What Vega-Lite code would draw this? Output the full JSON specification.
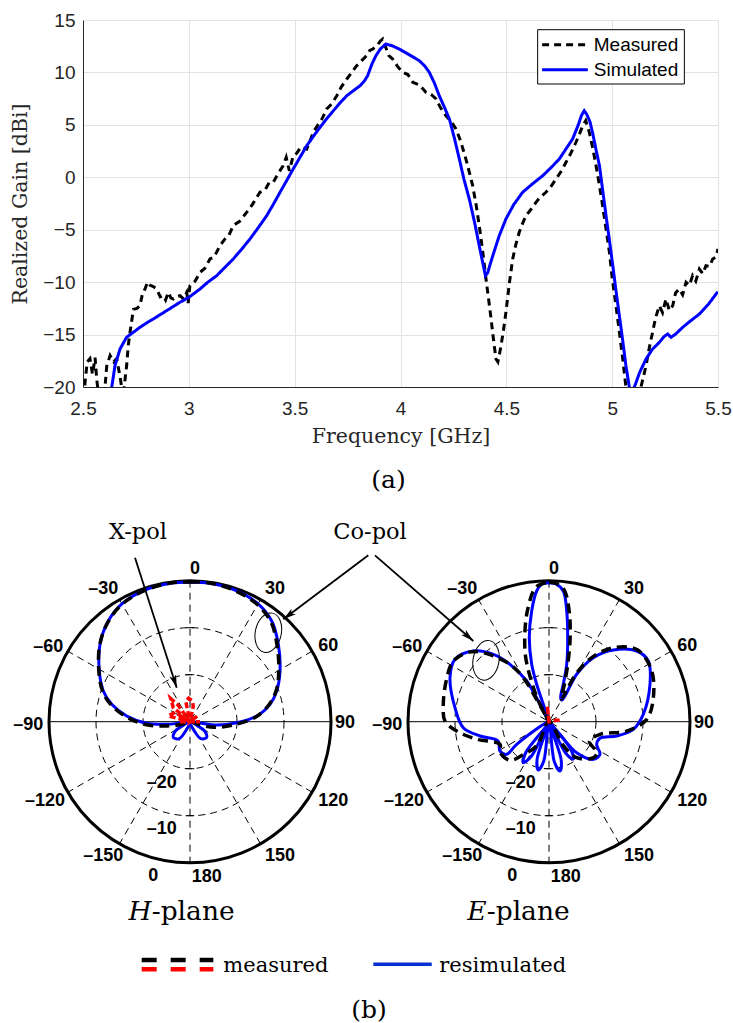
{
  "$schema": "https://vega.github.io/schema/vega-lite/v6.json",
  "padding": {"left": 10, "top": 11, "right": 5, "bottom": 0},
  "background": "white",
  "spacing": 8,
  "config": {"view": {"stroke": null}},
  "datasets": {
    "gain": [
      {"s":"Measured","f":2.505,"g":-21},{"s":"Measured","f":2.51,"g":-19.5},{"s":"Measured","f":2.52,"g":-17.6},{"s":"Measured","f":2.533,"g":-17.3},{"s":"Measured","f":2.545,"g":-18.8},{"s":"Measured","f":2.557,"g":-17.2},{"s":"Measured","f":2.565,"g":-19.3},{"s":"Measured","f":2.575,"g":-21},{"s":"Measured","f":2.6,"g":-21},{"s":"Measured","f":2.612,"g":-18.0},{"s":"Measured","f":2.628,"g":-17.0},{"s":"Measured","f":2.645,"g":-17.6},{"s":"Measured","f":2.659,"g":-17.3},{"s":"Measured","f":2.675,"g":-19.0},{"s":"Measured","f":2.69,"g":-21},{"s":"Measured","f":2.7,"g":-19},{"s":"Measured","f":2.706,"g":-18.0},{"s":"Measured","f":2.714,"g":-16.0},{"s":"Measured","f":2.722,"g":-14.8},{"s":"Measured","f":2.738,"g":-12.6},{"s":"Measured","f":2.755,"g":-12.5},{"s":"Measured","f":2.769,"g":-12.25},{"s":"Measured","f":2.78,"g":-11.2},{"s":"Measured","f":2.793,"g":-10.65},{"s":"Measured","f":2.805,"g":-10.0},{"s":"Measured","f":2.817,"g":-10.3},{"s":"Measured","f":2.83,"g":-10.4},{"s":"Measured","f":2.848,"g":-10.65},{"s":"Measured","f":2.865,"g":-11.4},{"s":"Measured","f":2.879,"g":-11.29},{"s":"Measured","f":2.89,"g":-11.7},{"s":"Measured","f":2.903,"g":-10.97},{"s":"Measured","f":2.915,"g":-11.5},{"s":"Measured","f":2.927,"g":-11.61},{"s":"Measured","f":2.94,"g":-11.4},{"s":"Measured","f":2.958,"g":-11.29},{"s":"Measured","f":2.975,"g":-11.6},{"s":"Measured","f":2.99,"g":-10.97},{"s":"Measured","f":2.997,"g":-12.0},{"s":"Measured","f":3.005,"g":-10.34},{"s":"Measured","f":3.03,"g":-9.9},{"s":"Measured","f":3.053,"g":-9.06},{"s":"Measured","f":3.075,"g":-8.7},{"s":"Measured","f":3.1,"g":-7.79},{"s":"Measured","f":3.12,"g":-7.6},{"s":"Measured","f":3.147,"g":-6.52},{"s":"Measured","f":3.17,"g":-5.9},{"s":"Measured","f":3.19,"g":-5.5},{"s":"Measured","f":3.21,"g":-4.61},{"s":"Measured","f":3.24,"g":-4.2},{"s":"Measured","f":3.273,"g":-3.34},{"s":"Measured","f":3.3,"g":-2.6},{"s":"Measured","f":3.336,"g":-1.43},{"s":"Measured","f":3.36,"g":-1.2},{"s":"Measured","f":3.38,"g":-0.5},{"s":"Measured","f":3.399,"g":-0.48},{"s":"Measured","f":3.42,"g":0.3},{"s":"Measured","f":3.446,"g":1.11},{"s":"Measured","f":3.46,"g":1.9},{"s":"Measured","f":3.475,"g":0.6},{"s":"Measured","f":3.493,"g":2.06},{"s":"Measured","f":3.51,"g":2.3},{"s":"Measured","f":3.53,"g":2.9},{"s":"Measured","f":3.557,"g":2.7},{"s":"Measured","f":3.575,"g":3.6},{"s":"Measured","f":3.588,"g":4.29},{"s":"Measured","f":3.61,"g":5.0},{"s":"Measured","f":3.63,"g":5.6},{"s":"Measured","f":3.651,"g":6.51},{"s":"Measured","f":3.675,"g":7.0},{"s":"Measured","f":3.699,"g":7.78},{"s":"Measured","f":3.72,"g":8.6},{"s":"Measured","f":3.746,"g":9.37},{"s":"Measured","f":3.77,"g":10.0},{"s":"Measured","f":3.793,"g":10.64},{"s":"Measured","f":3.815,"g":11.1},{"s":"Measured","f":3.84,"g":11.6},{"s":"Measured","f":3.855,"g":12.1},{"s":"Measured","f":3.869,"g":12.23},{"s":"Measured","f":3.89,"g":12.6},{"s":"Measured","f":3.905,"g":13.0},{"s":"Measured","f":3.916,"g":13.19},{"s":"Measured","f":3.93,"g":12.4},{"s":"Measured","f":3.945,"g":11.6},{"s":"Measured","f":3.963,"g":11.28},{"s":"Measured","f":3.985,"g":10.6},{"s":"Measured","f":4.01,"g":10.01},{"s":"Measured","f":4.035,"g":9.8},{"s":"Measured","f":4.058,"g":9.06},{"s":"Measured","f":4.09,"g":8.8},{"s":"Measured","f":4.12,"g":8.1},{"s":"Measured","f":4.145,"g":7.9},{"s":"Measured","f":4.168,"g":7.47},{"s":"Measured","f":4.19,"g":6.6},{"s":"Measured","f":4.215,"g":5.87},{"s":"Measured","f":4.24,"g":5.3},{"s":"Measured","f":4.262,"g":4.61},{"s":"Measured","f":4.285,"g":3.4},{"s":"Measured","f":4.309,"g":1.74},{"s":"Measured","f":4.325,"g":0.5},{"s":"Measured","f":4.341,"g":-0.8},{"s":"Measured","f":4.357,"g":-2.6},{"s":"Measured","f":4.372,"g":-4.61},{"s":"Measured","f":4.388,"g":-7.0},{"s":"Measured","f":4.404,"g":-9.7},{"s":"Measured","f":4.416,"g":-11.6},{"s":"Measured","f":4.428,"g":-13.51},{"s":"Measured","f":4.44,"g":-15.6},{"s":"Measured","f":4.451,"g":-17.33},{"s":"Measured","f":4.46,"g":-17.6},{"s":"Measured","f":4.468,"g":-16.8},{"s":"Measured","f":4.475,"g":-16.06},{"s":"Measured","f":4.487,"g":-14.5},{"s":"Measured","f":4.498,"g":-12.88},{"s":"Measured","f":4.515,"g":-10.0},{"s":"Measured","f":4.53,"g":-7.79},{"s":"Measured","f":4.545,"g":-6.4},{"s":"Measured","f":4.561,"g":-5.25},{"s":"Measured","f":4.577,"g":-4.4},{"s":"Measured","f":4.593,"g":-3.66},{"s":"Measured","f":4.615,"g":-3.1},{"s":"Measured","f":4.64,"g":-2.39},{"s":"Measured","f":4.66,"g":-1.9},{"s":"Measured","f":4.687,"g":-1.43},{"s":"Measured","f":4.71,"g":-0.9},{"s":"Measured","f":4.735,"g":-0.16},{"s":"Measured","f":4.76,"g":0.6},{"s":"Measured","f":4.782,"g":1.43},{"s":"Measured","f":4.805,"g":2.3},{"s":"Measured","f":4.829,"g":3.34},{"s":"Measured","f":4.845,"g":4.1},{"s":"Measured","f":4.861,"g":4.92},{"s":"Measured","f":4.875,"g":5.4},{"s":"Measured","f":4.892,"g":4.29},{"s":"Measured","f":4.908,"g":2.8},{"s":"Measured","f":4.924,"g":1.11},{"s":"Measured","f":4.94,"g":-0.8},{"s":"Measured","f":4.955,"g":-2.71},{"s":"Measured","f":4.97,"g":-4.8},{"s":"Measured","f":4.987,"g":-7.15},{"s":"Measured","f":5.0,"g":-9.6},{"s":"Measured","f":5.018,"g":-12.25},{"s":"Measured","f":5.035,"g":-14.9},{"s":"Measured","f":5.05,"g":-17.33},{"s":"Measured","f":5.065,"g":-20},{"s":"Measured","f":5.08,"g":-22},{"s":"Measured","f":5.12,"g":-22},{"s":"Measured","f":5.136,"g":-20},{"s":"Measured","f":5.148,"g":-19},{"s":"Measured","f":5.16,"g":-17.97},{"s":"Measured","f":5.175,"g":-16.3},{"s":"Measured","f":5.191,"g":-14.78},{"s":"Measured","f":5.205,"g":-13.4},{"s":"Measured","f":5.223,"g":-12.25},{"s":"Measured","f":5.238,"g":-12.9},{"s":"Measured","f":5.254,"g":-11.61},{"s":"Measured","f":5.27,"g":-12.7},{"s":"Measured","f":5.286,"g":-12.25},{"s":"Measured","f":5.3,"g":-11.0},{"s":"Measured","f":5.317,"g":-10.65},{"s":"Measured","f":5.333,"g":-11.2},{"s":"Measured","f":5.349,"g":-10.01},{"s":"Measured","f":5.365,"g":-10.3},{"s":"Measured","f":5.38,"g":-9.38},{"s":"Measured","f":5.395,"g":-9.9},{"s":"Measured","f":5.412,"g":-8.75},{"s":"Measured","f":5.428,"g":-9.2},{"s":"Measured","f":5.443,"g":-8.43},{"s":"Measured","f":5.46,"g":-8.5},{"s":"Measured","f":5.475,"g":-7.79},{"s":"Measured","f":5.49,"g":-7.6},{"s":"Measured","f":5.5,"g":-6.84},
      {"s":"Simulated","f":2.62,"g":-22},{"s":"Simulated","f":2.636,"g":-20},{"s":"Simulated","f":2.651,"g":-17.97},{"s":"Simulated","f":2.675,"g":-16.37},{"s":"Simulated","f":2.706,"g":-15.26},{"s":"Simulated","f":2.74,"g":-14.75},{"s":"Simulated","f":2.769,"g":-14.31},{"s":"Simulated","f":2.8,"g":-13.9},{"s":"Simulated","f":2.832,"g":-13.51},{"s":"Simulated","f":2.865,"g":-13.1},{"s":"Simulated","f":2.895,"g":-12.72},{"s":"Simulated","f":2.928,"g":-12.3},{"s":"Simulated","f":2.958,"g":-11.92},{"s":"Simulated","f":3.0,"g":-11.45},{"s":"Simulated","f":3.053,"g":-10.65},{"s":"Simulated","f":3.09,"g":-10.0},{"s":"Simulated","f":3.132,"g":-9.38},{"s":"Simulated","f":3.17,"g":-8.6},{"s":"Simulated","f":3.21,"g":-7.79},{"s":"Simulated","f":3.25,"g":-6.85},{"s":"Simulated","f":3.289,"g":-5.88},{"s":"Simulated","f":3.33,"g":-4.75},{"s":"Simulated","f":3.368,"g":-3.66},{"s":"Simulated","f":3.4,"g":-2.55},{"s":"Simulated","f":3.431,"g":-1.43},{"s":"Simulated","f":3.462,"g":-0.32},{"s":"Simulated","f":3.493,"g":0.79},{"s":"Simulated","f":3.525,"g":1.9},{"s":"Simulated","f":3.557,"g":3.01},{"s":"Simulated","f":3.59,"g":3.95},{"s":"Simulated","f":3.62,"g":4.77},{"s":"Simulated","f":3.65,"g":5.55},{"s":"Simulated","f":3.683,"g":6.35},{"s":"Simulated","f":3.715,"g":7.1},{"s":"Simulated","f":3.746,"g":7.78},{"s":"Simulated","f":3.78,"g":8.3},{"s":"Simulated","f":3.809,"g":8.73},{"s":"Simulated","f":3.83,"g":9.2},{"s":"Simulated","f":3.845,"g":9.7},{"s":"Simulated","f":3.865,"g":10.8},{"s":"Simulated","f":3.884,"g":11.6},{"s":"Simulated","f":3.905,"g":12.25},{"s":"Simulated","f":3.931,"g":12.71},{"s":"Simulated","f":3.96,"g":12.55},{"s":"Simulated","f":3.994,"g":12.23},{"s":"Simulated","f":4.04,"g":11.7},{"s":"Simulated","f":4.089,"g":11.12},{"s":"Simulated","f":4.115,"g":10.6},{"s":"Simulated","f":4.136,"g":10.01},{"s":"Simulated","f":4.16,"g":9.0},{"s":"Simulated","f":4.183,"g":7.78},{"s":"Simulated","f":4.207,"g":6.7},{"s":"Simulated","f":4.231,"g":5.56},{"s":"Simulated","f":4.255,"g":3.7},{"s":"Simulated","f":4.278,"g":1.74},{"s":"Simulated","f":4.3,"g":-0.2},{"s":"Simulated","f":4.325,"g":-2.07},{"s":"Simulated","f":4.35,"g":-4.3},{"s":"Simulated","f":4.372,"g":-6.52},{"s":"Simulated","f":4.39,"g":-8.3},{"s":"Simulated","f":4.401,"g":-9.38},{"s":"Simulated","f":4.412,"g":-9.1},{"s":"Simulated","f":4.425,"g":-8.2},{"s":"Simulated","f":4.436,"g":-7.48},{"s":"Simulated","f":4.466,"g":-5.6},{"s":"Simulated","f":4.498,"g":-3.98},{"s":"Simulated","f":4.535,"g":-2.6},{"s":"Simulated","f":4.577,"g":-1.43},{"s":"Simulated","f":4.625,"g":-0.6},{"s":"Simulated","f":4.672,"g":0.15},{"s":"Simulated","f":4.71,"g":0.9},{"s":"Simulated","f":4.75,"g":1.74},{"s":"Simulated","f":4.785,"g":2.8},{"s":"Simulated","f":4.813,"g":3.65},{"s":"Simulated","f":4.84,"g":5.0},{"s":"Simulated","f":4.855,"g":5.9},{"s":"Simulated","f":4.868,"g":6.35},{"s":"Simulated","f":4.88,"g":6.0},{"s":"Simulated","f":4.895,"g":5.3},{"s":"Simulated","f":4.908,"g":4.2},{"s":"Simulated","f":4.924,"g":2.6},{"s":"Simulated","f":4.94,"g":1.11},{"s":"Simulated","f":4.955,"g":-1.2},{"s":"Simulated","f":4.971,"g":-3.66},{"s":"Simulated","f":4.987,"g":-6.0},{"s":"Simulated","f":5.003,"g":-8.43},{"s":"Simulated","f":5.018,"g":-10.8},{"s":"Simulated","f":5.034,"g":-13.2},{"s":"Simulated","f":5.05,"g":-15.6},{"s":"Simulated","f":5.065,"g":-17.97},{"s":"Simulated","f":5.081,"g":-20},{"s":"Simulated","f":5.093,"g":-21.5},{"s":"Simulated","f":5.105,"g":-20},{"s":"Simulated","f":5.13,"g":-18.6},{"s":"Simulated","f":5.16,"g":-17.33},{"s":"Simulated","f":5.19,"g":-16.4},{"s":"Simulated","f":5.223,"g":-15.74},{"s":"Simulated","f":5.245,"g":-15.2},{"s":"Simulated","f":5.262,"g":-14.94},{"s":"Simulated","f":5.278,"g":-15.26},{"s":"Simulated","f":5.3,"g":-14.95},{"s":"Simulated","f":5.333,"g":-14.31},{"s":"Simulated","f":5.37,"g":-13.7},{"s":"Simulated","f":5.412,"g":-13.04},{"s":"Simulated","f":5.455,"g":-12.1},{"s":"Simulated","f":5.499,"g":-10.91}
    ],
    "gkey": [
      {"s":"Measured","f":4.669,"f2":4.885,"g":12.645,"ft":4.913},
      {"s":"Simulated","f":4.669,"f2":4.885,"g":10.26,"ft":4.913}
    ],
    "rings": [
      {"x":0,"y":0,"r":10,"k":"grid"},{"x":0,"y":0,"r":20,"k":"grid"},{"x":76.38,"y":0,"r":10,"k":"grid"},{"x":76.38,"y":0,"r":20,"k":"grid"},
      {"x":0,"y":0,"r":30,"k":"outer"},{"x":76.38,"y":0,"r":30,"k":"outer"}
    ],
    "spokes": [
      {"k":"dash","x":0,"y":30,"x2":0,"y2":-30},{"k":"dash","x":15,"y":25.98,"x2":-15,"y2":-25.98},{"k":"dash","x":25.98,"y":15,"x2":-25.98,"y2":-15},{"k":"dash","x":25.98,"y":-15,"x2":-25.98,"y2":15},{"k":"dash","x":15,"y":-25.98,"x2":-15,"y2":25.98},
      {"k":"solid","x":-30,"y":0,"x2":30,"y2":0},
      {"k":"dash","x":76.38,"y":30,"x2":76.38,"y2":-30},{"k":"dash","x":91.38,"y":25.98,"x2":61.38,"y2":-25.98},{"k":"dash","x":102.36,"y":15,"x2":50.4,"y2":-15},{"k":"dash","x":102.36,"y":-15,"x2":50.4,"y2":15},{"k":"dash","x":91.38,"y":-25.98,"x2":61.38,"y2":25.98},
      {"k":"solid","x":46.38,"y":0,"x2":106.38,"y2":0},
      {"k":"solid","x":-0.9,"y":10,"x2":0.9,"y2":10},{"k":"solid","x":-0.9,"y":20,"x2":0.9,"y2":20},{"k":"solid","x":-0.9,"y":-10,"x2":0.9,"y2":-10},{"k":"solid","x":-0.9,"y":-20,"x2":0.9,"y2":-20},
      {"k":"solid","x":75.48,"y":10,"x2":77.28,"y2":10},{"k":"solid","x":75.48,"y":20,"x2":77.28,"y2":20},{"k":"solid","x":75.48,"y":-10,"x2":77.28,"y2":-10},{"k":"solid","x":75.48,"y":-20,"x2":77.28,"y2":-20}
    ],
    "pattern": [
      {"c":"Hs","k":"sim","i":0,"x":0,"y":29.72},{"c":"Hs","k":"sim","i":1,"x":4.14,"y":29.45},{"c":"Hs","k":"sim","i":2,"x":9.21,"y":28.17},{"c":"Hs","k":"sim","i":3,"x":14.19,"y":25.32},{"c":"Hs","k":"sim","i":4,"x":17.38,"y":21.43},{"c":"Hs","k":"sim","i":5,"x":18.79,"y":16.47},{"c":"Hs","k":"sim","i":6,"x":19.15,"y":10.79},{"c":"Hs","k":"sim","i":7,"x":18.45,"y":6.53},{"c":"Hs","k":"sim","i":8,"x":17.02,"y":3.7},{"c":"Hs","k":"sim","i":9,"x":14.19,"y":1.21},{"c":"Hs","k":"sim","i":10,"x":9.94,"y":-0.21},{"c":"Hs","k":"sim","i":11,"x":5.68,"y":-0.7},{"c":"Hs","k":"sim","i":12,"x":2.13,"y":-0.28},{"c":"Hs","k":"sim","i":13,"x":0,"y":0},
      {"c":"Hs","k":"sim","i":14,"x":1.2,"y":-2.4},{"c":"Hs","k":"sim","i":15,"x":2.3,"y":-3.6},{"c":"Hs","k":"sim","i":16,"x":3.5,"y":-3.4},{"c":"Hs","k":"sim","i":17,"x":3.2,"y":-2.1},{"c":"Hs","k":"sim","i":18,"x":1.5,"y":-0.8},{"c":"Hs","k":"sim","i":19,"x":0,"y":0},
      {"c":"Hs","k":"sim","i":20,"x":-1.5,"y":-0.8},{"c":"Hs","k":"sim","i":21,"x":-3.2,"y":-2.1},{"c":"Hs","k":"sim","i":22,"x":-3.5,"y":-3.4},{"c":"Hs","k":"sim","i":23,"x":-2.3,"y":-3.6},{"c":"Hs","k":"sim","i":24,"x":-1.2,"y":-2.4},{"c":"Hs","k":"sim","i":25,"x":0,"y":0},
      {"c":"Hs","k":"sim","i":26,"x":-2.13,"y":-0.28},{"c":"Hs","k":"sim","i":27,"x":-4.96,"y":-0.55},{"c":"Hs","k":"sim","i":28,"x":-9.21,"y":-0.34},{"c":"Hs","k":"sim","i":29,"x":-13.47,"y":1.21},{"c":"Hs","k":"sim","i":30,"x":-16.66,"y":3.7},{"c":"Hs","k":"sim","i":31,"x":-18.45,"y":6.53},{"c":"Hs","k":"sim","i":32,"x":-19.3,"y":10.79},{"c":"Hs","k":"sim","i":33,"x":-19.15,"y":16.47},{"c":"Hs","k":"sim","i":34,"x":-17.38,"y":21.43},{"c":"Hs","k":"sim","i":35,"x":-14.19,"y":25.32},{"c":"Hs","k":"sim","i":36,"x":-9.21,"y":28.17},{"c":"Hs","k":"sim","i":37,"x":-4.14,"y":29.45},{"c":"Hs","k":"sim","i":38,"x":0,"y":29.72},

      {"c":"Hm","k":"meas","i":0,"x":0,"y":29.8},{"c":"Hm","k":"meas","i":1,"x":4.14,"y":29.5},{"c":"Hm","k":"meas","i":2,"x":9.1,"y":28.1},{"c":"Hm","k":"meas","i":3,"x":14.0,"y":25.2},{"c":"Hm","k":"meas","i":4,"x":17.2,"y":21.3},{"c":"Hm","k":"meas","i":5,"x":18.5,"y":16.4},{"c":"Hm","k":"meas","i":6,"x":18.9,"y":10.8},{"c":"Hm","k":"meas","i":7,"x":18.3,"y":6.5},{"c":"Hm","k":"meas","i":8,"x":16.8,"y":3.6},{"c":"Hm","k":"meas","i":9,"x":14.0,"y":1.0},{"c":"Hm","k":"meas","i":10,"x":9.5,"y":-0.6},{"c":"Hm","k":"meas","i":11,"x":5.2,"y":-1.2},{"c":"Hm","k":"meas","i":12,"x":2.0,"y":-0.6},{"c":"Hm","k":"meas","i":13,"x":0,"y":0},{"c":"Hm","k":"meas","i":14,"x":-2.0,"y":-0.6},{"c":"Hm","k":"meas","i":15,"x":-5.0,"y":-0.9},{"c":"Hm","k":"meas","i":16,"x":-9.5,"y":-0.6},{"c":"Hm","k":"meas","i":17,"x":-13.5,"y":1.0},{"c":"Hm","k":"meas","i":18,"x":-16.8,"y":3.6},{"c":"Hm","k":"meas","i":19,"x":-18.6,"y":6.5},{"c":"Hm","k":"meas","i":20,"x":-19.4,"y":10.8},{"c":"Hm","k":"meas","i":21,"x":-19.2,"y":16.4},{"c":"Hm","k":"meas","i":22,"x":-17.4,"y":21.3},{"c":"Hm","k":"meas","i":23,"x":-14.2,"y":25.2},{"c":"Hm","k":"meas","i":24,"x":-9.2,"y":28.1},{"c":"Hm","k":"meas","i":25,"x":-4.14,"y":29.5},{"c":"Hm","k":"meas","i":26,"x":0,"y":29.8},

      {"c":"Hx","k":"xpol","i":0,"x":-2.13,"y":0},{"c":"Hx","k":"xpol","i":1,"x":2.13,"y":0},{"c":"Hx","k":"xpol","i":2,"x":0,"y":0},{"c":"Hx","k":"xpol","i":3,"x":-4.62,"y":1.21},{"c":"Hx","k":"xpol","i":4,"x":-3.2,"y":2.0},{"c":"Hx","k":"xpol","i":5,"x":0,"y":0},{"c":"Hx","k":"xpol","i":6,"x":-3.55,"y":2.98},{"c":"Hx","k":"xpol","i":7,"x":-4.1,"y":4.9},{"c":"Hx","k":"xpol","i":8,"x":-2.6,"y":3.6},{"c":"Hx","k":"xpol","i":9,"x":0,"y":0},{"c":"Hx","k":"xpol","i":10,"x":-0.9,"y":4.3},{"c":"Hx","k":"xpol","i":11,"x":-0.3,"y":5.0},{"c":"Hx","k":"xpol","i":12,"x":0.5,"y":4.4},{"c":"Hx","k":"xpol","i":13,"x":0.7,"y":3.3},{"c":"Hx","k":"xpol","i":14,"x":0,"y":0},{"c":"Hx","k":"xpol","i":15,"x":1.5,"y":1.2},{"c":"Hx","k":"xpol","i":16,"x":0,"y":0},

      {"c":"Es","k":"sim","i":0,"x":76.38,"y":29.57},{"c":"Es","k":"sim","i":1,"x":77.87,"y":29.3},{"c":"Es","k":"sim","i":2,"x":79.42,"y":27.81},{"c":"Es","k":"sim","i":3,"x":80.15,"y":23.55},{"c":"Es","k":"sim","i":4,"x":80.36,"y":17.87},{"c":"Es","k":"sim","i":5,"x":80.15,"y":12.21},{"c":"Es","k":"sim","i":6,"x":79.42,"y":7.96},{"c":"Es","k":"sim","i":7,"x":78.87,"y":5.11},{"c":"Es","k":"sim","i":8,"x":79.18,"y":4.6},{"c":"Es","k":"sim","i":9,"x":82.27,"y":10.09},{"c":"Es","k":"sim","i":10,"x":85.81,"y":13.62},{"c":"Es","k":"sim","i":11,"x":90.06,"y":15.26},{"c":"Es","k":"sim","i":12,"x":95.04,"y":15.04},{"c":"Es","k":"sim","i":13,"x":97.51,"y":12.91},{"c":"Es","k":"sim","i":14,"x":97.87,"y":7.96},{"c":"Es","k":"sim","i":15,"x":96.44,"y":1.57},{"c":"Es","k":"sim","i":16,"x":94.32,"y":-1.62},{"c":"Es","k":"sim","i":17,"x":90.78,"y":-3.04},{"c":"Es","k":"sim","i":18,"x":87.23,"y":-3.53},{"c":"Es","k":"sim","i":19,"x":86.53,"y":-4.81},{"c":"Es","k":"sim","i":20,"x":87.23,"y":-6.94},{"c":"Es","k":"sim","i":21,"x":85.81,"y":-8.0},{"c":"Es","k":"sim","i":22,"x":82.27,"y":-6.6},{"c":"Es","k":"sim","i":23,"x":78.72,"y":-2.68},{"c":"Es","k":"sim","i":24,"x":76.38,"y":0},
      {"c":"Es","k":"sim","i":25,"x":81.06,"y":-5.99},{"c":"Es","k":"sim","i":26,"x":81.55,"y":-7.96},{"c":"Es","k":"sim","i":27,"x":79.95,"y":-6.71},{"c":"Es","k":"sim","i":28,"x":76.38,"y":0},
      {"c":"Es","k":"sim","i":29,"x":78.98,"y":-8.2},{"c":"Es","k":"sim","i":30,"x":78.72,"y":-10.49},{"c":"Es","k":"sim","i":31,"x":77.52,"y":-8.52},{"c":"Es","k":"sim","i":32,"x":76.38,"y":0},
      {"c":"Es","k":"sim","i":33,"x":75.28,"y":-8.33},{"c":"Es","k":"sim","i":34,"x":74.1,"y":-10.28},{"c":"Es","k":"sim","i":35,"x":73.85,"y":-8.01},{"c":"Es","k":"sim","i":36,"x":76.38,"y":0},
      {"c":"Es","k":"sim","i":37,"x":72.66,"y":-7.31},{"c":"Es","k":"sim","i":38,"x":70.91,"y":-8.72},{"c":"Es","k":"sim","i":39,"x":71.45,"y":-6.55},{"c":"Es","k":"sim","i":40,"x":76.38,"y":0},
      {"c":"Es","k":"sim","i":41,"x":69.51,"y":-4.81},{"c":"Es","k":"sim","i":42,"x":67.38,"y":-6.94},{"c":"Es","k":"sim","i":43,"x":65.95,"y":-6.23},{"c":"Es","k":"sim","i":44,"x":65.53,"y":-4.11},{"c":"Es","k":"sim","i":45,"x":61.7,"y":-3.04},{"c":"Es","k":"sim","i":46,"x":58.15,"y":-1.28},{"c":"Es","k":"sim","i":47,"x":56.38,"y":2.98},{"c":"Es","k":"sim","i":48,"x":55.32,"y":9.36},{"c":"Es","k":"sim","i":49,"x":56.38,"y":13.28},{"c":"Es","k":"sim","i":50,"x":60.27,"y":15.04},{"c":"Es","k":"sim","i":51,"x":64.53,"y":14.34},{"c":"Es","k":"sim","i":52,"x":68.08,"y":12.21},{"c":"Es","k":"sim","i":53,"x":71.64,"y":8.66},{"c":"Es","k":"sim","i":54,"x":74.47,"y":3.7},{"c":"Es","k":"sim","i":55,"x":76.38,"y":0},{"c":"Es","k":"sim","i":56,"x":75.17,"y":3.7},{"c":"Es","k":"sim","i":57,"x":73.76,"y":7.96},{"c":"Es","k":"sim","i":58,"x":72.7,"y":12.21},{"c":"Es","k":"sim","i":59,"x":72.19,"y":17.87},{"c":"Es","k":"sim","i":60,"x":72.7,"y":23.55},{"c":"Es","k":"sim","i":61,"x":73.76,"y":27.81},{"c":"Es","k":"sim","i":62,"x":74.89,"y":29.3},{"c":"Es","k":"sim","i":63,"x":76.38,"y":29.57},

      {"c":"Em","k":"meas","i":0,"x":76.38,"y":29.7},{"c":"Em","k":"meas","i":1,"x":78.38,"y":29.2},{"c":"Em","k":"meas","i":2,"x":79.68,"y":27.9},{"c":"Em","k":"meas","i":3,"x":80.68,"y":23.5},{"c":"Em","k":"meas","i":4,"x":80.88,"y":18.0},{"c":"Em","k":"meas","i":5,"x":80.38,"y":12.2},{"c":"Em","k":"meas","i":6,"x":79.58,"y":7.6},{"c":"Em","k":"meas","i":7,"x":78.98,"y":4.8},{"c":"Em","k":"meas","i":8,"x":82.38,"y":10.5},{"c":"Em","k":"meas","i":9,"x":85.98,"y":14.0},{"c":"Em","k":"meas","i":10,"x":90.38,"y":15.8},{"c":"Em","k":"meas","i":11,"x":95.18,"y":15.3},{"c":"Em","k":"meas","i":12,"x":98.18,"y":11.0},{"c":"Em","k":"meas","i":13,"x":98.58,"y":5.1},{"c":"Em","k":"meas","i":14,"x":97.18,"y":0.5},{"c":"Em","k":"meas","i":15,"x":92.88,"y":-2.0},{"c":"Em","k":"meas","i":16,"x":87.23,"y":-2.68},{"c":"Em","k":"meas","i":17,"x":84.98,"y":-4.2},{"c":"Em","k":"meas","i":18,"x":86.58,"y":-6.6},{"c":"Em","k":"meas","i":19,"x":85.78,"y":-7.7},{"c":"Em","k":"meas","i":20,"x":82.28,"y":-7.66},{"c":"Em","k":"meas","i":21,"x":79.38,"y":-5.0},{"c":"Em","k":"meas","i":22,"x":76.38,"y":0},{"c":"Em","k":"meas","i":23,"x":73.88,"y":-5.0},{"c":"Em","k":"meas","i":24,"x":70.88,"y":-7.0},{"c":"Em","k":"meas","i":25,"x":68.08,"y":-8.2},{"c":"Em","k":"meas","i":26,"x":65.98,"y":-6.5},{"c":"Em","k":"meas","i":27,"x":65.95,"y":-4.81},{"c":"Em","k":"meas","i":28,"x":61.0,"y":-3.74},{"c":"Em","k":"meas","i":29,"x":56.74,"y":-1.98},{"c":"Em","k":"meas","i":30,"x":54.25,"y":0.15},{"c":"Em","k":"meas","i":31,"x":53.89,"y":3.7},{"c":"Em","k":"meas","i":32,"x":54.58,"y":9.0},{"c":"Em","k":"meas","i":33,"x":56.02,"y":12.91},{"c":"Em","k":"meas","i":34,"x":59.38,"y":14.8},{"c":"Em","k":"meas","i":35,"x":62.4,"y":14.68},{"c":"Em","k":"meas","i":36,"x":68.08,"y":12.21},{"c":"Em","k":"meas","i":37,"x":70.91,"y":9.36},{"c":"Em","k":"meas","i":38,"x":73.88,"y":4.5},{"c":"Em","k":"meas","i":39,"x":76.38,"y":0},{"c":"Em","k":"meas","i":40,"x":73.88,"y":5.0},{"c":"Em","k":"meas","i":41,"x":72.38,"y":9.5},{"c":"Em","k":"meas","i":42,"x":71.38,"y":14.0},{"c":"Em","k":"meas","i":43,"x":71.28,"y":19.5},{"c":"Em","k":"meas","i":44,"x":71.88,"y":24.0},{"c":"Em","k":"meas","i":45,"x":73.58,"y":28.6},{"c":"Em","k":"meas","i":46,"x":76.38,"y":29.7},

      {"c":"Ex","k":"xpol","i":0,"x":76.38,"y":0},{"c":"Ex","k":"xpol","i":1,"x":76.03,"y":3.3},{"c":"Ex","k":"xpol","i":2,"x":76.38,"y":0},{"c":"Ex","k":"xpol","i":3,"x":77.78,"y":0.3},{"c":"Ex","k":"xpol","i":4,"x":79.28,"y":0.3}
    ],
    "arrows": [
      {"a":"x","x":-11.7,"y":34.89,"x2":-2.83,"y2":7.23},
      {"a":"c1","x":37.94,"y":35.4,"x2":19.85,"y2":21.79},
      {"a":"c2","x":39.36,"y":35.4,"x2":60.28,"y2":17.17}
    ],
    "alabels": [
      {"x":1.06,"y":32.49,"t":"0"},{"x":18.09,"y":28.17,"t":"30"},{"x":-18.45,"y":28.17,"t":"–30"},{"x":29.43,"y":16.11,"t":"60"},{"x":-30.15,"y":15.89,"t":"–60"},{"x":32.98,"y":-0.28,"t":"90"},{"x":-34.4,"y":-0.7,"t":"–90"},{"x":30.49,"y":-16.87,"t":"120"},{"x":-30.85,"y":-16.87,"t":"–120"},{"x":19.15,"y":-28.57,"t":"150"},{"x":-18.45,"y":-28.57,"t":"–150"},{"x":3.55,"y":-33.04,"t":"180"},{"x":-7.81,"y":-32.83,"t":"0"},{"x":-6.02,"y":-22.77,"t":"–10"},{"x":-6.02,"y":-12.98,"t":"–20"},
      {"x":77.44,"y":32.49,"t":"0"},{"x":94.47,"y":28.17,"t":"30"},{"x":57.93,"y":28.17,"t":"–30"},{"x":105.81,"y":16.11,"t":"60"},{"x":46.23,"y":15.89,"t":"–60"},{"x":109.36,"y":-0.28,"t":"90"},{"x":41.98,"y":-0.7,"t":"–90"},{"x":106.87,"y":-16.87,"t":"120"},{"x":45.53,"y":-16.87,"t":"–120"},{"x":95.53,"y":-28.57,"t":"150"},{"x":57.93,"y":-28.57,"t":"–150"},{"x":79.93,"y":-33.04,"t":"180"},{"x":68.57,"y":-32.83,"t":"0"},{"x":70.36,"y":-22.77,"t":"–10"},{"x":70.36,"y":-12.98,"t":"–20"}
    ],
    "planes": [
      {"x":-8.15,"y":-42.26,"t":"H","k":"it"},{"x":-8.15,"y":-42.26,"t":"-plane","k":"rm"},
      {"x":63.13,"y":-42.26,"t":"E","k":"it"},{"x":63.13,"y":-42.26,"t":"-plane","k":"rm"}
    ],
    "notes": [
      {"x":-11.06,"y":40.36,"t":"X-pol"},{"x":38.3,"y":40.36,"t":"Co-pol"}
    ],
    "keylines": [
      {"k":"black","x":-10.28,"x2":4.96,"y":-50.7},
      {"k":"red","x":-10.28,"x2":4.96,"y":-52.68},
      {"k":"blue","x":39.0,"x2":51.43,"y":-51.62}
    ],
    "keytext": [
      {"x":7.09,"y":-53.15,"t":"measured"},{"x":53.04,"y":-53.15,"t":"resimulated"}
    ]
  },
  "vconcat": [
    {
      "width": 635,
      "height": 367,
      "title": {"text": "(a)", "orient": "bottom", "anchor": "middle", "frame": "group", "font": "DejaVu Serif", "fontSize": 25, "fontWeight": "normal", "color": "black", "offset": 21, "dx": -12},
      "encoding": {
        "x": {"field": "f", "type": "quantitative", "scale": {"domain": [2.5, 5.5], "nice": false, "zero": false},
          "axis": {"values": [2.5, 3, 3.5, 4, 4.5, 5, 5.5], "format": "~g", "title": "Frequency [GHz]", "titleFont": "DejaVu Serif", "titleFontSize": 20.5, "titleFontWeight": "normal", "titleColor": "#262626", "titlePadding": 8, "labelFont": "Liberation Sans", "labelFontSize": 19, "labelColor": "#262626", "labelPadding": 12, "labelFlush": false, "labelOverlap": false, "ticks": false, "domainColor": "#262626", "domainWidth": 1, "gridColor": "#e3e3e3", "grid": true}},
        "y": {"field": "g", "type": "quantitative", "scale": {"domain": [-20, 15], "nice": false, "zero": false},
          "axis": {"values": [-20, -15, -10, -5, 0, 5, 10, 15], "format": "~g", "title": "Realized Gain [dBi]", "titleFont": "DejaVu Serif", "titleFontSize": 20.5, "titleFontWeight": "normal", "titleColor": "#262626", "titlePadding": 12, "labelFont": "Liberation Sans", "labelFontSize": 19, "labelColor": "#262626", "labelPadding": 8, "labelFlush": false, "labelOverlap": false, "ticks": false, "domainColor": "#262626", "domainWidth": 1, "gridColor": "#e3e3e3", "grid": true}}
      },
      "layer": [
        {
          "data": {"name": "gain"},
          "mark": {"type": "line", "clip": true, "strokeWidth": 3},
          "encoding": {
            "color": {"field": "s", "type": "nominal", "scale": {"domain": ["Measured", "Simulated"], "range": ["#000000", "#0000ff"]}, "legend": null},
            "strokeDash": {"field": "s", "type": "nominal", "scale": {"domain": ["Measured", "Simulated"], "range": [[7, 5], [1, 0]]}, "legend": null}
          }
        },
        {
          "data": {"values": [{"f": 4.648, "f2": 5.341, "g": 14.075, "g2": 8.897}]},
          "mark": {"type": "rect", "fill": "white", "stroke": "black", "strokeWidth": 1},
          "encoding": {"x2": {"field": "f2"}, "y2": {"field": "g2"}}
        },
        {
          "data": {"name": "gkey"},
          "mark": {"type": "rule", "strokeWidth": 3},
          "encoding": {
            "x2": {"field": "f2"},
            "color": {"field": "s", "type": "nominal", "scale": {"domain": ["Measured", "Simulated"], "range": ["#000000", "#0000ff"]}, "legend": null},
            "strokeDash": {"field": "s", "type": "nominal", "scale": {"domain": ["Measured", "Simulated"], "range": [[7, 5], [1, 0]]}, "legend": null}
          }
        },
        {
          "data": {"name": "gkey"},
          "mark": {"type": "text", "font": "Liberation Sans", "fontSize": 19, "color": "black", "align": "left", "baseline": "middle"},
          "encoding": {"x": {"field": "ft", "type": "quantitative"}, "text": {"field": "s"}}
        }
      ]
    },
    {
      "width": 635,
      "height": 520,
      "encoding": {
        "x": {"field": "x", "type": "quantitative", "scale": {"domain": [-22.766, 112.34], "nice": false, "zero": false}, "axis": null},
        "y": {"field": "y", "type": "quantitative", "scale": {"domain": [-63.68, 46.957], "nice": false, "zero": false}, "axis": null}
      },
      "layer": [
        {"data": {"name": "rings"}, "transform": [{"filter": "datum.k == 'grid'"}],
          "mark": {"type": "point", "shape": "circle", "filled": false, "stroke": "black", "strokeWidth": 1, "strokeDash": [7, 5], "opacity": 1},
          "encoding": {"size": {"field": "r", "type": "quantitative", "scale": {"type": "pow", "exponent": 2, "domain": [0, 30], "range": [0, 79524]}, "legend": null}}},
        {"data": {"name": "rings"}, "transform": [{"filter": "datum.k == 'outer'"}],
          "mark": {"type": "point", "shape": "circle", "filled": false, "stroke": "black", "strokeWidth": 3, "opacity": 1},
          "encoding": {"size": {"field": "r", "type": "quantitative", "scale": {"type": "pow", "exponent": 2, "domain": [0, 30], "range": [0, 79524]}, "legend": null}}},
        {"data": {"name": "spokes"}, "transform": [{"filter": "datum.k == 'dash'"}],
          "mark": {"type": "rule", "stroke": "black", "strokeWidth": 1, "strokeDash": [7, 5]},
          "encoding": {"x2": {"field": "x2"}, "y2": {"field": "y2"}}},
        {"data": {"name": "spokes"}, "transform": [{"filter": "datum.k == 'solid'"}],
          "mark": {"type": "rule", "stroke": "black", "strokeWidth": 1},
          "encoding": {"x2": {"field": "x2"}, "y2": {"field": "y2"}}},
        {"data": {"name": "pattern"}, "transform": [{"filter": "datum.k == 'sim'"}],
          "mark": {"type": "line", "interpolate": "catmull-rom", "stroke": "#0000ff", "strokeWidth": 3},
          "encoding": {"order": {"field": "i", "type": "quantitative"}, "detail": {"field": "c"}}},
        {"data": {"name": "pattern"}, "transform": [{"filter": "datum.k == 'meas'"}],
          "mark": {"type": "line", "interpolate": "catmull-rom", "stroke": "black", "strokeWidth": 3.5, "strokeDash": [10, 6]},
          "encoding": {"order": {"field": "i", "type": "quantitative"}, "detail": {"field": "c"}}},
        {"data": {"name": "pattern"}, "transform": [{"filter": "datum.k == 'xpol'"}],
          "mark": {"type": "line", "interpolate": "linear", "stroke": "#ff0000", "strokeWidth": 3.5, "strokeDash": [6, 3]},
          "encoding": {"order": {"field": "i", "type": "quantitative"}, "detail": {"field": "c"}}},
        {"data": {"name": "arrows"},
          "mark": {"type": "rule", "stroke": "black", "strokeWidth": 1.8},
          "encoding": {"x2": {"field": "x2"}, "y2": {"field": "y2"}}},
        {"data": {"name": "arrows"}, "transform": [{"filter": "datum.a == 'x'"}],
          "mark": {"type": "point", "shape": "M0,0L0.38,1.4L0,1.05L-0.38,1.4Z", "filled": true, "color": "black", "opacity": 1, "size": 346, "angle": 162.2},
          "encoding": {"x": {"field": "x2", "type": "quantitative"}, "y": {"field": "y2", "type": "quantitative"}}},
        {"data": {"name": "arrows"}, "transform": [{"filter": "datum.a == 'c1'"}],
          "mark": {"type": "point", "shape": "M0,0L0.38,1.4L0,1.05L-0.38,1.4Z", "filled": true, "color": "black", "opacity": 1, "size": 346, "angle": 233},
          "encoding": {"x": {"field": "x2", "type": "quantitative"}, "y": {"field": "y2", "type": "quantitative"}}},
        {"data": {"name": "arrows"}, "transform": [{"filter": "datum.a == 'c2'"}],
          "mark": {"type": "point", "shape": "M0,0L0.38,1.4L0,1.05L-0.38,1.4Z", "filled": true, "color": "black", "opacity": 1, "size": 346, "angle": 131.1},
          "encoding": {"x": {"field": "x2", "type": "quantitative"}, "y": {"field": "y2", "type": "quantitative"}}},
        {"data": {"values": [{"x": 16.66, "y": 18.94}]},
          "mark": {"type": "point", "shape": "M0,-1A0.65,1 0 1,1 0,1A0.65,1 0 1,1 0,-1Z", "filled": false, "stroke": "black", "strokeWidth": 1, "opacity": 1, "size": 1600, "angle": 12}},
        {"data": {"values": [{"x": 62.98, "y": 13.06}]},
          "mark": {"type": "point", "shape": "M0,-1A0.65,1 0 1,1 0,1A0.65,1 0 1,1 0,-1Z", "filled": false, "stroke": "black", "strokeWidth": 1, "opacity": 1, "size": 1600, "angle": 10}},
        {"data": {"name": "alabels"},
          "mark": {"type": "text", "font": "Liberation Sans", "fontWeight": "bold", "fontSize": 18, "color": "black", "align": "center", "baseline": "middle"},
          "encoding": {"text": {"field": "t"}}},
        {"data": {"name": "planes"}, "transform": [{"filter": "datum.k == 'it'"}],
          "mark": {"type": "text", "font": "DejaVu Serif", "fontStyle": "italic", "fontSize": 26.5, "color": "black", "align": "right", "baseline": "alphabetic"},
          "encoding": {"text": {"field": "t"}}},
        {"data": {"name": "planes"}, "transform": [{"filter": "datum.k == 'rm'"}],
          "mark": {"type": "text", "font": "DejaVu Serif", "fontSize": 26.5, "color": "black", "align": "left", "baseline": "alphabetic"},
          "encoding": {"text": {"field": "t"}}},
        {"data": {"name": "notes"},
          "mark": {"type": "text", "font": "DejaVu Serif", "fontSize": 22.5, "color": "black", "align": "center", "baseline": "middle"},
          "encoding": {"text": {"field": "t"}}},
        {"data": {"name": "keylines"}, "transform": [{"filter": "datum.k == 'black'"}],
          "mark": {"type": "rule", "stroke": "black", "strokeWidth": 4.5, "strokeDash": [15, 14]},
          "encoding": {"x2": {"field": "x2"}}},
        {"data": {"name": "keylines"}, "transform": [{"filter": "datum.k == 'red'"}],
          "mark": {"type": "rule", "stroke": "#ff0000", "strokeWidth": 4.5, "strokeDash": [15, 14]},
          "encoding": {"x2": {"field": "x2"}}},
        {"data": {"name": "keylines"}, "transform": [{"filter": "datum.k == 'blue'"}],
          "mark": {"type": "rule", "stroke": "#0a2fd0", "strokeWidth": 3.5},
          "encoding": {"x2": {"field": "x2"}}},
        {"data": {"name": "keytext"},
          "mark": {"type": "text", "font": "DejaVu Serif", "fontSize": 21, "color": "black", "align": "left", "baseline": "alphabetic"},
          "encoding": {"text": {"field": "t"}}},
        {"data": {"values": [{"x": 38.09, "y": -61.34, "t": "(b)"}]},
          "mark": {"type": "text", "font": "DejaVu Serif", "fontSize": 25, "color": "black", "align": "center", "baseline": "middle"},
          "encoding": {"text": {"field": "t"}}}
      ]
    }
  ]
}
